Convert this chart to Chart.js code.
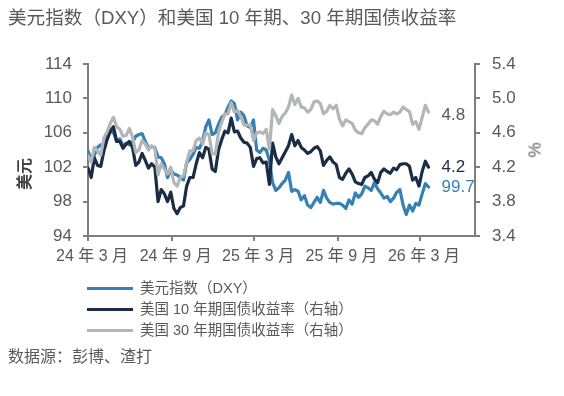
<!DOCTYPE html>
<html lang="zh-CN">
  <head>
    <meta charset="UTF-8" />
    <title>美元指数（DXY）和美国 10 年期、30 年期国债收益率</title>
    <script src="https://cdn.jsdelivr.net/npm/chart.js"></script>
    <style>
      body { margin: 0; background: #fff; }
      .janela { position: relative; width: 564px; height: 396px; overflow: hidden;
        font-family: "Liberation Sans", Arial, "Noto Sans CJK SC", sans-serif; color: #595959; }
      #grafico { position: absolute; left: 0; top: 0; }
      .titulo { position: absolute; left: 8px; top: 7px; font-size: 18.6px; line-height: 21px; white-space: nowrap; }
      .fonte { position: absolute; left: 8px; top: 348px; font-size: 16px; line-height: 18px; white-space: nowrap; }
      .legenda { position: absolute; left: 87px; top: 278px; font-size: 14.5px; }
      .item { position: relative; height: 21px; line-height: 21px; white-space: nowrap; }
      .item i { position: absolute; left: 0; top: 9px; width: 46px; height: 3px; }
      .item span { position: absolute; left: 53px; top: 0; }
      .eixo { position: absolute; white-space: nowrap; }
    </style>
  </head>
  <body>
    <div class="janela">
      <canvas id="grafico" width="564" height="396"></canvas>
      <div class="titulo">美元指数（DXY）和美国 10 年期、30 年期国债收益率</div>
      <div class="eixo" style="left:7px; top:162px; font-size:16px; font-weight:bold; color:#404040; transform:rotate(-90deg); transform-origin:center;">美元</div>
      <div class="eixo" style="left:526px; top:140px; font-size:17px; transform:rotate(90deg); transform-origin:center;">%</div>
      <div class="legenda" id="legenda"></div>
      <div class="fonte">数据源：彭博、渣打</div>
    </div>

    <script>
      // semanas desde 1 mar 2024 (dados semanais)
      const tickLabels = ["24 年 3 月", "24 年 9 月", "25 年 3 月", "25 年 9 月", "26 年 3 月"];
      const tickWeeks = [0, 26.3, 52.2, 78.4, 104.3];
      const leftTicks = [94, 98, 102, 106, 110, 114];
      const rightTicks = [3.4, 3.8, 4.2, 4.6, 5.0, 5.4];
      const seriesNames = ["美元指数（DXY）", "美国 10 年期国债收益率（右轴）", "美国 30 年期国债收益率（右轴）"];
      const seriesColors = ["#3780b4", "#1b2d45", "#b3b5b8"];
      const endLabels = ["99.7", "4.2", "4.8"];
      const endLabelColors = ["#3780b4", "#1b2d45", "#595959"];

      const dxy = [
        103.9, 102.8, 103.4, 104.3, 104.6, 104.2, 106.0, 106.2, 106.0, 105.0,
        105.3, 104.5, 104.8, 104.6, 104.9, 105.6, 105.8, 105.9, 105.0, 104.2,
        104.4, 104.3, 103.2, 103.1, 102.4, 100.8, 101.7, 101.2, 101.1, 100.8,
        100.5, 102.5, 102.9, 103.5, 104.3, 104.2, 105.0, 106.7, 107.5, 105.8,
        106.0, 107.0, 107.8, 108.1, 109.0, 109.7, 109.4, 107.5, 108.4, 108.0,
        106.8, 106.6, 107.5, 104.0, 103.7, 104.2, 104.0, 102.8, 100.2, 99.3,
        99.6, 100.1, 100.5, 101.4, 99.2, 99.4, 99.2, 98.2, 98.7, 97.6,
        97.3, 97.9, 98.5, 97.9, 99.3, 98.4, 97.9, 97.7, 97.8, 97.8,
        97.6, 97.2, 98.2, 97.7, 99.0, 98.5, 98.9, 99.8, 99.6, 99.3,
        100.2, 99.5, 99.0, 98.4, 98.6, 98.0, 98.4, 99.1, 99.4, 97.6,
        96.5, 97.6, 96.9, 97.8, 97.6, 98.9, 100.1, 99.7
      ];
      const ust10 = [
        4.19, 4.08, 4.31, 4.22, 4.21, 4.39, 4.52, 4.62, 4.67, 4.50,
        4.50, 4.42, 4.47, 4.50, 4.43, 4.22, 4.26, 4.36, 4.28, 4.19,
        4.24, 4.20, 3.80, 3.94, 3.89, 3.80, 3.91, 3.72, 3.66, 3.73,
        3.75, 3.98, 4.08, 4.08, 4.24, 4.37, 4.31, 4.43, 4.41, 4.18,
        4.15, 4.40, 4.52, 4.62, 4.60, 4.77, 4.61, 4.62, 4.54, 4.49,
        4.48, 4.43, 4.21, 4.30, 4.31, 4.25, 4.26, 4.00, 4.48, 4.32,
        4.24, 4.31, 4.38, 4.45, 4.58, 4.45, 4.51, 4.43, 4.40, 4.36,
        4.38, 4.42, 4.44, 4.39, 4.22, 4.28, 4.32, 4.26, 4.23, 4.08,
        4.06, 4.13, 4.18, 4.12, 4.03, 4.01, 4.00, 4.08, 4.10, 4.14,
        4.06, 4.02, 4.14, 4.18, 4.15, 4.13, 4.19, 4.17, 4.23, 4.24,
        4.24, 4.21, 4.05, 4.08, 3.98, 4.15, 4.27, 4.20
      ];
      const ust30 = [
        4.33, 4.26, 4.43, 4.39, 4.34, 4.54, 4.61, 4.71, 4.78, 4.67,
        4.64, 4.56, 4.57, 4.65, 4.55, 4.37, 4.40, 4.51, 4.47, 4.40,
        4.45, 4.42, 4.11, 4.24, 4.18, 4.12, 4.20, 4.02, 3.98, 4.08,
        4.10, 4.26, 4.39, 4.39, 4.51, 4.54, 4.47, 4.60, 4.58, 4.36,
        4.35, 4.60, 4.72, 4.82, 4.82, 4.95, 4.84, 4.86, 4.79, 4.69,
        4.69, 4.69, 4.51, 4.60, 4.61, 4.59, 4.64, 4.41, 4.87, 4.80,
        4.71, 4.79, 4.83, 4.90, 5.04, 4.93, 5.00, 4.90, 4.89, 4.84,
        4.87, 4.96, 4.97, 4.94, 4.82, 4.85, 4.92, 4.88, 4.92, 4.76,
        4.68, 4.75, 4.73, 4.71, 4.63, 4.60, 4.59, 4.66, 4.70, 4.75,
        4.74, 4.70, 4.79, 4.85, 4.82, 4.81, 4.84, 4.82, 4.84, 4.90,
        4.87, 4.85, 4.70, 4.73, 4.64, 4.78, 4.92, 4.84
      ];

      const cinza = "#7f7f7f";
      const fonteBase = "'Liberation Sans', Arial, 'Noto Sans CJK SC', sans-serif";
      Chart.defaults.font.family = fonteBase;
      Chart.defaults.color = "#595959";

      function pontos(valores) {
        return valores.map(function (v, i) { return { x: i, y: v }; });
      }

      // legenda em html
      var legenda = document.getElementById("legenda");
      for (var i = 0; i < seriesNames.length; i++) {
        legenda.innerHTML += `<div class="item"><i style="background:${seriesColors[i]}"></i><span>${seriesNames[i]}</span></div>`;
      }

      // rótulos no fim das linhas
      const rotulosFinais = {
        id: "rotulosFinais",
        afterDatasetsDraw(chart) {
          const ctx = chart.ctx;
          const escalas = ["y", "y1", "y1"];
          const ultimo = dxy.length - 1;
          const x = chart.scales.x.getPixelForValue(ultimo) + 13;
          ctx.save();
          ctx.font = "17px " + fonteBase;
          ctx.textAlign = "left";
          ctx.textBaseline = "middle";
          for (let k = 0; k < endLabels.length; k++) {
            const y = chart.scales[escalas[k]].getPixelForValue(Number(endLabels[k]));
            ctx.fillStyle = endLabelColors[k];
            ctx.fillText(endLabels[k], x, y);
          }
          ctx.restore();
        },
      };

      const config = {
        type: "line",
        data: {
          datasets: [
            { label: seriesNames[0], data: pontos(dxy), yAxisID: "y", borderColor: seriesColors[0], order: 2 },
            { label: seriesNames[1], data: pontos(ust10), yAxisID: "y1", borderColor: seriesColors[1], order: 1 },
            { label: seriesNames[2], data: pontos(ust30), yAxisID: "y1", borderColor: seriesColors[2], order: 0 },
          ],
        },
        options: {
          responsive: false,
          animation: false,
          layout: { padding: { top: 64, left: 0, right: 0, bottom: 0 } },
          elements: {
            line: { borderWidth: 3.2, tension: 0, borderJoinStyle: "round", borderCapStyle: "round" },
            point: { radius: 0 },
          },
          plugins: { legend: { display: false }, tooltip: { enabled: false } },
          scales: {
            x: {
              type: "linear",
              min: 0,
              max: 121.6,
              afterBuildTicks(s) { s.ticks = tickWeeks.map(function (v) { return { value: v }; }); },
              afterFit(s) { s.height = 160; },
              ticks: {
                autoSkip: false,
                maxRotation: 0,
                labelOffset: 4,
                padding: 6,
                font: { size: 16 },
                callback: function (v, i) { return tickLabels[i]; },
              },
              grid: { drawOnChartArea: false, tickLength: 5, color: cinza, lineWidth: 2 },
              border: { color: cinza, width: 2 },
            },
            y: {
              position: "left",
              min: 94,
              max: 114,
              afterBuildTicks(s) { s.ticks = leftTicks.map(function (v) { return { value: v }; }); },
              afterFit(s) { s.width = 88; },
              ticks: { font: { size: 17 }, padding: 11 },
              grid: { drawOnChartArea: false, tickLength: 5, color: cinza, lineWidth: 2 },
              border: { color: cinza, width: 2 },
            },
            y1: {
              position: "right",
              min: 3.4,
              max: 5.4,
              afterBuildTicks(s) { s.ticks = rightTicks.map(function (v) { return { value: v }; }); },
              afterFit(s) { s.width = 89; },
              ticks: {
                font: { size: 17 },
                padding: 12,
                callback: function (v) { return Number(v).toFixed(1); },
              },
              grid: { drawOnChartArea: false, tickLength: 5, color: cinza, lineWidth: 2 },
              border: { color: cinza, width: 2 },
            },
          },
        },
        plugins: [rotulosFinais],
      };

      var myChart = new Chart(document.getElementById("grafico"), config);
    </script>
  </body>
</html>
